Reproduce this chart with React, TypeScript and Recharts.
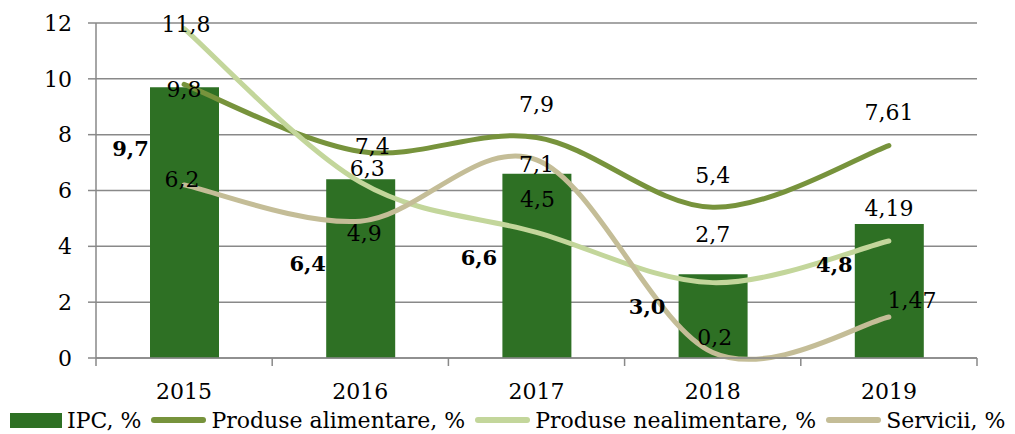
import React from "react";
import {
	ComposedChart,
	Bar,
	Line,
	XAxis,
	YAxis,
	CartesianGrid,
	LabelList,
} from "recharts";

const years = ["2015", "2016", "2017", "2018", "2019"];
const ipc = [9.7, 6.4, 6.6, 3.0, 4.8];
const alimentare = [9.8, 7.4, 7.9, 5.4, 7.61];
const nealimentare = [11.8, 6.3, 4.5, 2.7, 4.19];
const servicii = [6.2, 4.9, 7.1, 0.2, 1.47];
const yTicks = [0, 2, 4, 6, 8, 10, 12];

const data = years.map((year, i) => ({
	year,
	ipc: ipc[i],
	alimentare: alimentare[i],
	nealimentare: nealimentare[i],
	servicii: servicii[i],
}));

// label placement (pixels from point), hand-placed like the source chart
const nudgeAlim = [[0, 5], [12, -5], [0, -33], [0, -32], [0, -33]];
const nudgeNeal = [[2, -4], [7, -14], [1, -33], [0, -48], [0, -33]];
const nudgeServ = [[-2, -5], [4, 12], [0, 5], [2, -15], [23, -16]];
const nudgeBar = [[-54, 61], [-53, 84], [-58, 84], [-66, 32], [-55, 40]];

const FONT = '"DejaVu Serif", serif';
const FS = 22;
const AXIS = "#898989";
const C_IPC = "#2E7024";
const C_ALIM = "#77933C";
const C_NEAL = "#C3D69B";
const C_SERV = "#C4BD97";

// Excel-style smoothed line (Catmull-Rom through the points)
const smoothCurve = (context: any) => {
	let pts: number[][] = [];
	return {
		areaStart() {},
		areaEnd() {},
		lineStart() {
			pts = [];
		},
		lineEnd() {
			if (!pts.length) return;
			context.moveTo(pts[0][0], pts[0][1]);
			for (let i = 0; i < pts.length - 1; i++) {
				const p0 = pts[i - 1] || pts[i];
				const p1 = pts[i];
				const p2 = pts[i + 1];
				const p3 = pts[i + 2] || p2;
				context.bezierCurveTo(
					p1[0] + (p2[0] - p0[0]) / 6,
					p1[1] + (p2[1] - p0[1]) / 6,
					p2[0] - (p3[0] - p1[0]) / 6,
					p2[1] - (p3[1] - p1[1]) / 6,
					p2[0],
					p2[1]
				);
			}
		},
		point(x: number, y: number) {
			pts.push([+x, +y]);
		},
	};
};

const lineLabel = (nudge: number[][]) => (props: any) => {
	const { x, y, value, index } = props;
	const [dx, dy] = nudge[index] || [0, 0];
	return (
		<text
			x={x + dx}
			y={y + dy}
			textAnchor="middle"
			dominantBaseline="central"
			fontFamily={FONT}
			fontSize={FS}
			fill="#000"
		>
			{String(value).replace(".", ",")}
		</text>
	);
};

const barLabel = (props: any) => {
	const { x, y, width, value, index } = props;
	const [dx, dy] = nudgeBar[index] || [0, 0];
	return (
		<text
			x={x + width / 2 + dx}
			y={y + dy}
			textAnchor="middle"
			dominantBaseline="central"
			fontFamily={FONT}
			fontSize={21}
			fontWeight="bold"
			fill="#000"
		>
			{Number(value).toFixed(1).replace(".", ",")}
		</text>
	);
};

const XTick = (props: any) => {
	const { x, y, payload, index } = props;
	const half = payload.offset || 88;
	return (
		<g>
			<line x1={x - half} x2={x - half} y1={y} y2={y + 8} stroke={AXIS} strokeWidth={1.5} />
			{index === years.length - 1 && (
				<line x1={x + half} x2={x + half} y1={y} y2={y + 8} stroke={AXIS} strokeWidth={1.5} />
			)}
			<text
				x={x}
				y={y + 33}
				textAnchor="middle"
				dominantBaseline="central"
				fontFamily={FONT}
				fontSize={FS}
				fill="#000"
			>
				{payload.value}
			</text>
		</g>
	);
};

const LegendLine = ({ color }: { color: string }) => (
	<span
		style={{
			display: "inline-block",
			width: 55,
			height: 6,
			borderRadius: 3,
			background: color,
			marginLeft: 10,
			marginRight: 5,
		}}
	/>
);

const App = () => {
	return (
		<div style={{ position: "absolute", left: 0, top: 0, width: 1015, height: 434, background: "#fff" }}>
			<ComposedChart
				width={1015}
				height={434}
				data={data}
				margin={{ top: 23, right: 38, left: 0, bottom: 0 }}
			>
				<CartesianGrid vertical={false} stroke={AXIS} strokeWidth={1.5} />
				<XAxis
					dataKey="year"
					height={76}
					axisLine={{ stroke: AXIS, strokeWidth: 1.5 }}
					tickLine={false}
					tickSize={0}
					tickMargin={0}
					tick={<XTick />}
					interval={0}
				/>
				<YAxis
					width={96}
					domain={[0, 12]}
					ticks={yTicks}
					axisLine={{ stroke: AXIS, strokeWidth: 1.5 }}
					tickLine={{ stroke: AXIS, strokeWidth: 1.5 }}
					tickSize={8}
					tickMargin={16}
					tick={{ fontFamily: FONT, fontSize: FS, fill: "#000" }}
				/>
				<Bar dataKey="ipc" fill={C_IPC} barSize={69} isAnimationActive={false}>
					<LabelList dataKey="ipc" content={barLabel} />
				</Bar>
				<Line
					dataKey="alimentare"
					type={smoothCurve as any}
					stroke={C_ALIM}
					strokeWidth={5}
					strokeLinecap="round"
					dot={false}
					activeDot={false}
					isAnimationActive={false}
				>
					<LabelList dataKey="alimentare" content={lineLabel(nudgeAlim)} />
				</Line>
				<Line
					dataKey="nealimentare"
					type={smoothCurve as any}
					stroke={C_NEAL}
					strokeWidth={5}
					strokeLinecap="round"
					dot={false}
					activeDot={false}
					isAnimationActive={false}
				>
					<LabelList dataKey="nealimentare" content={lineLabel(nudgeNeal)} />
				</Line>
				<Line
					dataKey="servicii"
					type={smoothCurve as any}
					stroke={C_SERV}
					strokeWidth={5}
					strokeLinecap="round"
					dot={false}
					activeDot={false}
					isAnimationActive={false}
				>
					<LabelList dataKey="servicii" content={lineLabel(nudgeServ)} />
				</Line>
			</ComposedChart>
			<div
				style={{
					position: "absolute",
					left: 0,
					top: 405,
					width: 1015,
					height: 30,
					display: "flex",
					alignItems: "center",
					fontFamily: FONT,
					fontSize: 22,
					color: "#000",
					whiteSpace: "nowrap",
				}}
			>
				<span
					style={{
						display: "inline-block",
						width: 52,
						height: 15,
						background: C_IPC,
						marginLeft: 10,
						marginRight: 5,
					}}
				/>
				<span>IPC, %</span>
				<LegendLine color={C_ALIM} />
				<span>Produse alimentare, %</span>
				<LegendLine color={C_NEAL} />
				<span>Produse nealimentare, %</span>
				<LegendLine color={C_SERV} />
				<span>Servicii, %</span>
			</div>
		</div>
	);
};

export default App;
